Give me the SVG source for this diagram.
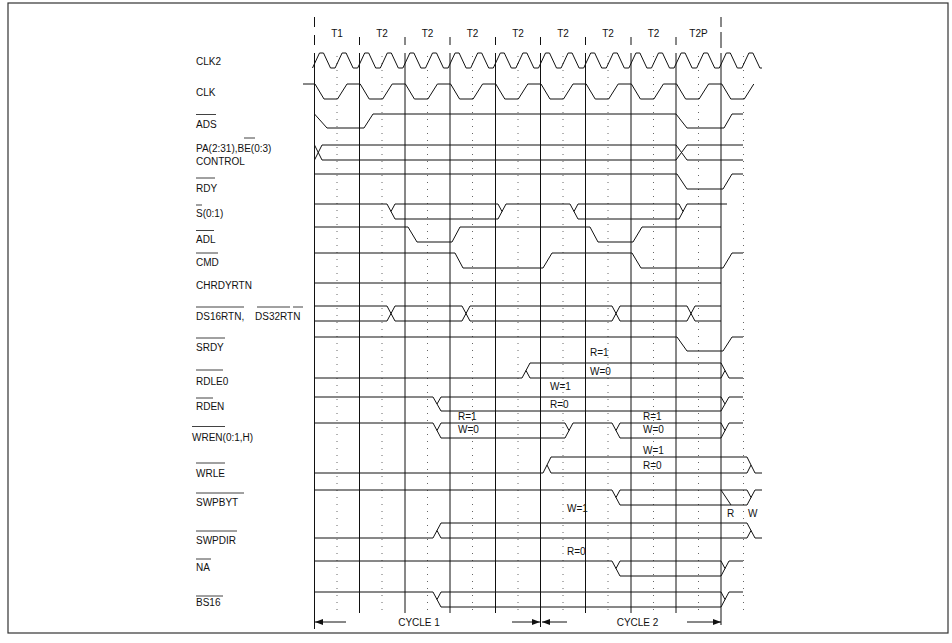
<svg xmlns="http://www.w3.org/2000/svg" width="952" height="643" viewBox="0 0 952 643">
<defs>
<style>
.t{font-family:"Liberation Sans",Arial,sans-serif;font-size:10px;fill:#111}
.w{fill:none;stroke:#111;stroke-width:1}
.g{fill:none;stroke:#111;stroke-width:1}
.d{fill:none;stroke:#666;stroke-width:1;stroke-dasharray:1 6}
.o{stroke:#111;stroke-width:0.8}
</style>
<marker id="ah" viewBox="0 0 8 6" refX="8" refY="3" markerWidth="8" markerHeight="6" markerUnits="userSpaceOnUse" orient="auto-start-reverse"><path d="M0,0 L8,3 L0,6 z" fill="#111"/></marker>
</defs>
<rect x="0" y="0" width="952" height="643" fill="#fff"/>
<rect x="8" y="3" width="940" height="630" fill="none" stroke="#333" stroke-width="1.2"/>

<g id="period-labels" class="t" text-anchor="middle">
<text x="337" y="37">T1</text><text x="382" y="37">T2</text><text x="427.5" y="37">T2</text><text x="472.5" y="37">T2</text><text x="518" y="37">T2</text><text x="563" y="37">T2</text><text x="608" y="37">T2</text><text x="653.5" y="37">T2</text><text x="698.5" y="37">T2P</text>
</g>

<g id="grid">
<path class="g" d="M314.5,17V27M314.5,35V45M314.5,53V629M721,17V27M721,32V48M721,53V625"/>
<path class="g" d="M359.5,37V45M405,37V45M450,37V45M495.5,37V45M540.5,37V45M585.5,37V45M631,37V45M676,37V45"/>
<path class="g" d="M359.5,53V613M405,53V613M450,53V613M495.5,53V613M540.5,53V627M585.5,53V613M631,53V613M676,53V613"/>
<path class="d" d="M337,56V613M382,56V613M427.5,56V613M472.5,56V613M518,56V613M563,56V613M608,56V613M653.5,56V613M698.5,56V613M743.5,56V613"/>
</g>

<g id="signal-labels" class="t">
<text x="196" y="65">CLK2</text>
<text x="196" y="96">CLK</text>
<text x="196" y="127.5">ADS</text>
<text x="196" y="151.5">PA(2:31),BE(0:3)</text>
<text x="196" y="164.5">CONTROL</text>
<text x="196" y="191.5">RDY</text>
<text x="196" y="216.5">S(0:1)</text>
<text x="196" y="242.5">ADL</text>
<text x="196" y="265.5">CMD</text>
<text x="196" y="288.5">CHRDYRTN</text>
<text x="196" y="319.5">DS16RTN,<tspan x="255">DS32RTN</tspan></text>
<text x="196" y="350.5">SRDY</text>
<text x="196" y="384.5">RDLE0</text>
<text x="196" y="409.5">RDEN</text>
<text x="192" y="440.5">WREN(0:1,H)</text>
<text x="196" y="476.5">WRLE</text>
<text x="196" y="505.5">SWPBYT</text>
<text x="196" y="543.5">SWPDIR</text>
<text x="196" y="570.5">NA</text>
<text x="196" y="606">BS16</text>
</g>
<g id="overlines" class="o">
<line x1="196" y1="114.5" x2="216" y2="114.5"/>
<line x1="244" y1="138" x2="255" y2="138"/>
<line x1="196" y1="178" x2="215" y2="178"/>
<line x1="196" y1="205" x2="202" y2="205"/>
<line x1="196" y1="230.5" x2="214" y2="230.5"/>
<line x1="196" y1="253" x2="218" y2="253"/>
<line x1="196" y1="307" x2="244" y2="307"/>
<line x1="257" y1="307" x2="290" y2="307"/>
<line x1="293" y1="307" x2="303" y2="307"/>
<line x1="196" y1="338" x2="225" y2="338"/>
<line x1="196" y1="370" x2="223" y2="370"/>
<line x1="196" y1="398" x2="213" y2="398"/>
<line x1="192" y1="426.5" x2="225" y2="426.5"/>
<line x1="196" y1="463" x2="225" y2="463"/>
<line x1="196" y1="493" x2="244" y2="493"/>
<line x1="196" y1="531" x2="237" y2="531"/>
<line x1="196" y1="559" x2="211" y2="559"/>
<line x1="196" y1="596" x2="223" y2="596"/>
</g>

<g id="waveforms" class="w">
<path id="clk2" d="M312.5,68 l7,-15 h4 l7,15 h4.6 l7,-15 h4 l7,15 h4.6 l7,-15 h4 l7,15 h4.6 l7,-15 h4 l7,15 h4.6 l7,-15 h4 l7,15 h4.6 l7,-15 h4 l7,15 h4.6 l7,-15 h4 l7,15 h4.6 l7,-15 h4 l7,15 h4.6 l7,-15 h4 l7,15 h4.6 l7,-15 h4 l7,15 h4.6 l7,-15 h4 l7,15 h4.6 l7,-15 h4 l7,15 h4.6 l7,-15 h4 l7,15 h4.6 l7,-15 h4 l7,15 h4.6 l7,-15 h4 l7,15 h4.6 l7,-15 h4 l7,15 h4.6 l7,-15 h4 l7,15 h4.6 l7,-15 h4 l7,15 h4.6 l7,-15 h4 l7,15 h4.6 l7,-15 h4 l7,15 h2.1"/>
<path id="clk" d="M303,84 H315 l9,15 h13.5 l9.5,-15 h13.2 l9,15 h13.5 l9.5,-15 h13.2 l9,15 h13.5 l9.5,-15 h13.2 l9,15 h13.5 l9.5,-15 h13.2 l9,15 h13.5 l9.5,-15 h13.2 l9,15 h13.5 l9.5,-15 h13.2 l9,15 h13.5 l9.5,-15 h13.2 l9,15 h13.5 l9.5,-15 h13.2 l9,15 h13.5 l9.5,-15 h13.2 l9,15 h13.5 l9.5,-15"/>
<path id="ads" d="M314.5,114 L327,128 H364 L373,114 H676 L687,128 H724 L732,114 H743"/>
<path id="pa" d="M314.5,145 L322,160 H676 L687,145 H743 M314.5,160 L322,145 H676 L687,160 H743"/>
<path id="rdy" d="M314.5,174 H677 L687,189 H723 L732,174 H743"/>
<path id="s01" d="M314.5,204 H387 L395,219 H498 L506,204 H570 L578,219 H679 L687,204 H727 M391,211.5 L395,204 H498 L502,211.5 M574,211.5 L578,204 H679 L683,211.5"/>
<path id="adl" d="M314.5,227 H408 L417,242 H452 L460,227 H590 L598,242 H633 L642,227 H721"/>
<path id="cmd" d="M314.5,253 H455 L463,268 H543 L552,253 H632 L641,268 H723 L732,253 H743"/>
<path id="chrdyrtn" d="M314.5,283 H721"/>
<path id="ds16" d="M314.5,306 H387 L395,321 H462 L470,306 H612 L620,321 H687 L695,306 H721 M314.5,321 H387 L395,306 H462 L470,321 H612 L620,306 H687 L695,321 H721"/>
<path id="srdy" d="M314.5,337 H677 L687,351 H723 L732,337 H743"/>
<path id="rdle0" d="M314.5,378 H522 L530,363 H721 L729,378 H743 M526,370.5 L530,378 H721 L725,370.5"/>
<path id="rden" d="M314.5,397 H433 L441,411 H721 L729,397 H743 M437,404 L441,397 H721 L725,404"/>
<path id="wren" d="M314.5,423 H433 L441,438 H565 L573,423 H612 L620,438 H721 L729,423 H743 M437,430.5 L441,423 H565 L569,430.5 M616,430.5 L620,423 H721 L725,430.5"/>
<path id="wrle" d="M314.5,473 H543 L551,457 H747 L755,473 H762 M547,465 L551,473 H747 L751,465"/>
<path id="swpbyt" d="M314.5,490 H612 L620,505 H747 L755,490 H762 M616,497.5 L620,490 H747 L751,497.5 M721,490 L731,505"/>
<path id="swpdir" d="M314.5,538 H433 L441,523 H747 L755,538 H762 M437,530.5 L441,538 H747 L751,530.5"/>
<path id="na" d="M314.5,561 H612 L620,576 H721 L729,561 H743 M616,568.5 L620,561 H721 L725,568.5"/>
<path id="bs16" d="M314.5,592 H433 L441,607 H721 L729,592 H743 M437,599.5 L441,592 H721 L725,599.5"/>
</g>

<g id="value-labels" class="t">
<text x="590" y="355.5">R=1</text>
<text x="590" y="374.5">W=0</text>
<text x="550" y="390">W=1</text>
<text x="550" y="408">R=0</text>
<text x="458" y="419.5">R=1</text>
<text x="458" y="433">W=0</text>
<text x="643" y="419.5">R=1</text>
<text x="643" y="433">W=0</text>
<text x="643" y="454">W=1</text>
<text x="643" y="469">R=0</text>
<text x="567" y="512">W=1</text>
<text x="567" y="555">R=0</text>
<text x="727" y="517">R</text>
<text x="748" y="517">W</text>
</g>

<g id="cycle-arrows">
<g class="w" marker-start="url(#ah)"><line x1="315" y1="622" x2="346" y2="622"/><line x1="542" y1="622" x2="567" y2="622"/></g>
<g class="w" marker-end="url(#ah)"><line x1="512" y1="622" x2="540" y2="622"/><line x1="687" y1="622" x2="721" y2="622"/></g>
<text class="t" x="419" y="626" text-anchor="middle">CYCLE 1</text>
<text class="t" x="637.5" y="626" text-anchor="middle">CYCLE 2</text>
</g>
</svg>
